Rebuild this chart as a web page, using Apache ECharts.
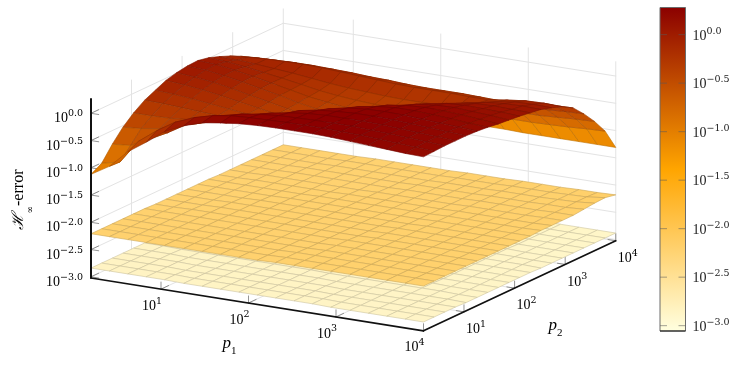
<!DOCTYPE html>
<html><head><meta charset="utf-8">
<style>html,body{margin:0;padding:0;background:#fff}#c{width:748px;height:367px}</style>
<script src="https://cdn.jsdelivr.net/npm/echarts@6/dist/echarts.min.js"></script>
</head><body><div id="c"></div>
<script>
// log10 of p1 / p2 at the mesh nodes
const pGrid=[0.20,0.41,0.62,0.83,1.04,1.26,1.47,1.68,1.89,2.10,2.31,2.52,2.73,2.94,3.16,3.37,3.58,3.79,4.00];
// log10 of the error: one row per p2 node, one column per p1 node
const topSurface=[
[-1.12,-.92,-.6,-.37,-.12,.04,.15,.2,.24,.26,.27,.27,.27,.26,.24,.22,.2,.18,.17],
[-1.01,-.93,-.5,-.25,-.04,.1,.19,.24,.26,.27,.28,.28,.28,.27,.26,.24,.22,.2,.18],
[-.75,-.72,-.55,-.38,-.18,-.02,.1,.18,.23,.26,.27,.28,.28,.28,.26,.25,.23,.21,.19],
[-.53,-.5,-.45,-.33,-.25,-.15,-.03,.08,.16,.22,.26,.28,.28,.28,.27,.25,.23,.21,.19],
[-.36,-.36,-.35,-.32,-.3,-.27,-.2,-.08,.05,.17,.23,.26,.28,.28,.27,.25,.23,.21,.19],
[-.22,-.23,-.25,-.27,-.29,-.3,-.3,-.25,-.12,.04,.16,.23,.26,.27,.26,.24,.22,.2,.18],
[-.13,-.15,-.18,-.22,-.26,-.3,-.34,-.35,-.3,-.15,.03,.16,.22,.25,.25,.23,.21,.18,.16],
[-.04,-.07,-.11,-.16,-.22,-.28,-.34,-.38,-.38,-.28,-.1,.05,.15,.2,.22,.21,.19,.16,.13],
[.01,-.02,-.06,-.12,-.19,-.26,-.33,-.39,-.42,-.38,-.26,-.08,.05,.13,.17,.18,.16,.14,.11],
[.04,.02,-.03,-.09,-.16,-.23,-.31,-.37,-.41,-.42,-.35,-.22,-.06,.05,.11,.13,.12,.11,.09],
[.05,.03,-.02,-.08,-.15,-.22,-.29,-.34,-.38,-.4,-.4,-.34,-.22,-.08,.02,.07,.08,.07,.06],
[.01,-.01,-.05,-.1,-.15,-.21,-.27,-.31,-.34,-.36,-.37,-.36,-.3,-.18,-.06,0,.03,.04,.03],
[-.06,-.07,-.09,-.12,-.15,-.19,-.23,-.26,-.28,-.3,-.31,-.31,-.3,-.26,-.16,-.08,-.03,-.02,-.03],
[-.14,-.11,-.09,-.08,-.08,-.09,-.11,-.13,-.15,-.17,-.18,-.18,-.18,-.19,-.19,-.14,-.1,-.09,-.1],
[-.24,-.22,-.21,-.2,-.2,-.21,-.22,-.24,-.25,-.27,-.28,-.28,-.28,-.29,-.3,-.28,-.25,-.23,-.22],
[-.42,-.4,-.39,-.38,-.38,-.39,-.4,-.41,-.42,-.43,-.44,-.45,-.45,-.46,-.46,-.46,-.45,-.43,-.42],
[-.65,-.64,-.63,-.63,-.63,-.64,-.64,-.65,-.66,-.67,-.68,-.68,-.69,-.7,-.7,-.7,-.68,-.66,-.65],
[-.92,-.92,-.92,-.93,-.93,-.93,-.94,-.94,-.95,-.95,-.96,-.96,-.96,-.97,-.97,-.96,-.95,-.93,-.92],
[-1.3,-1.3,-1.3,-1.3,-1.3,-1.3,-1.3,-1.3,-1.3,-1.3,-1.3,-1.3,-1.3,-1.31,-1.31,-1.31,-1.31,-1.31,-1.31]
];
const midSurface=[
[-2.21,-2.21,-2.21,-2.21,-2.21,-2.21,-2.21,-2.21,-2.21,-2.21,-2.20,-2.20,-2.20,-2.20,-2.20,-2.20,-2.20,-2.20,-2.20],
[-2.21,-2.21,-2.21,-2.21,-2.21,-2.21,-2.21,-2.21,-2.21,-2.21,-2.20,-2.20,-2.20,-2.20,-2.20,-2.20,-2.20,-2.20,-2.20],
[-2.21,-2.21,-2.21,-2.21,-2.21,-2.21,-2.21,-2.21,-2.21,-2.21,-2.20,-2.20,-2.20,-2.20,-2.20,-2.20,-2.20,-2.20,-2.20],
[-2.21,-2.21,-2.21,-2.21,-2.21,-2.21,-2.21,-2.21,-2.21,-2.21,-2.21,-2.20,-2.20,-2.20,-2.20,-2.20,-2.20,-2.20,-2.20],
[-2.21,-2.21,-2.21,-2.21,-2.21,-2.21,-2.21,-2.21,-2.21,-2.21,-2.21,-2.20,-2.20,-2.20,-2.20,-2.20,-2.20,-2.20,-2.20],
[-2.21,-2.21,-2.21,-2.21,-2.21,-2.21,-2.21,-2.21,-2.21,-2.21,-2.21,-2.20,-2.20,-2.20,-2.20,-2.20,-2.20,-2.20,-2.20],
[-2.22,-2.22,-2.21,-2.21,-2.21,-2.21,-2.21,-2.21,-2.21,-2.21,-2.21,-2.21,-2.20,-2.20,-2.20,-2.20,-2.20,-2.20,-2.20],
[-2.22,-2.22,-2.22,-2.21,-2.21,-2.21,-2.21,-2.21,-2.21,-2.21,-2.21,-2.21,-2.20,-2.20,-2.20,-2.20,-2.20,-2.20,-2.20],
[-2.22,-2.22,-2.22,-2.21,-2.21,-2.21,-2.21,-2.21,-2.21,-2.21,-2.21,-2.21,-2.20,-2.20,-2.20,-2.20,-2.20,-2.20,-2.20],
[-2.22,-2.22,-2.22,-2.22,-2.21,-2.21,-2.21,-2.21,-2.21,-2.21,-2.21,-2.21,-2.21,-2.20,-2.20,-2.20,-2.20,-2.20,-2.20],
[-2.22,-2.22,-2.22,-2.22,-2.22,-2.21,-2.21,-2.21,-2.21,-2.21,-2.21,-2.21,-2.21,-2.20,-2.20,-2.20,-2.20,-2.20,-2.20],
[-2.22,-2.22,-2.22,-2.22,-2.22,-2.22,-2.21,-2.21,-2.21,-2.21,-2.21,-2.21,-2.21,-2.20,-2.20,-2.20,-2.20,-2.20,-2.19],
[-2.23,-2.23,-2.22,-2.22,-2.22,-2.22,-2.22,-2.21,-2.21,-2.21,-2.21,-2.21,-2.21,-2.20,-2.20,-2.20,-2.20,-2.20,-2.19],
[-2.23,-2.23,-2.22,-2.22,-2.22,-2.22,-2.22,-2.22,-2.21,-2.21,-2.21,-2.21,-2.21,-2.20,-2.20,-2.20,-2.20,-2.19,-2.19],
[-2.23,-2.23,-2.23,-2.22,-2.22,-2.22,-2.22,-2.22,-2.22,-2.21,-2.21,-2.21,-2.21,-2.20,-2.20,-2.20,-2.20,-2.19,-2.19],
[-2.23,-2.23,-2.23,-2.22,-2.22,-2.22,-2.22,-2.22,-2.22,-2.21,-2.21,-2.21,-2.21,-2.20,-2.20,-2.20,-2.19,-2.19,-2.17],
[-2.23,-2.23,-2.23,-2.23,-2.22,-2.22,-2.22,-2.22,-2.22,-2.22,-2.21,-2.21,-2.21,-2.20,-2.20,-2.20,-2.19,-2.18,-2.15],
[-2.23,-2.23,-2.23,-2.23,-2.22,-2.22,-2.22,-2.22,-2.22,-2.22,-2.21,-2.21,-2.21,-2.20,-2.20,-2.20,-2.19,-2.18,-2.14],
[-2.23,-2.23,-2.23,-2.23,-2.23,-2.22,-2.22,-2.22,-2.22,-2.22,-2.21,-2.21,-2.21,-2.20,-2.20,-2.20,-2.19,-2.19,-2.18]
];
const paleSurface=[
[-2.84,-2.84,-2.84,-2.84,-2.84,-2.85,-2.85,-2.85,-2.85,-2.85,-2.85,-2.85,-2.85,-2.86,-2.86,-2.86,-2.86,-2.86,-2.86],
[-2.84,-2.84,-2.84,-2.84,-2.84,-2.85,-2.85,-2.85,-2.85,-2.85,-2.85,-2.85,-2.85,-2.86,-2.86,-2.86,-2.86,-2.86,-2.86],
[-2.84,-2.84,-2.84,-2.84,-2.85,-2.85,-2.85,-2.85,-2.85,-2.85,-2.85,-2.85,-2.86,-2.86,-2.86,-2.86,-2.86,-2.86,-2.86],
[-2.84,-2.84,-2.84,-2.84,-2.85,-2.85,-2.85,-2.85,-2.85,-2.85,-2.85,-2.85,-2.86,-2.86,-2.86,-2.86,-2.86,-2.86,-2.86],
[-2.84,-2.84,-2.84,-2.85,-2.85,-2.85,-2.85,-2.85,-2.85,-2.85,-2.85,-2.86,-2.86,-2.86,-2.86,-2.86,-2.86,-2.86,-2.87],
[-2.84,-2.84,-2.85,-2.85,-2.85,-2.85,-2.85,-2.85,-2.85,-2.85,-2.86,-2.86,-2.86,-2.86,-2.86,-2.86,-2.86,-2.87,-2.87],
[-2.85,-2.85,-2.85,-2.85,-2.85,-2.85,-2.85,-2.85,-2.85,-2.86,-2.86,-2.86,-2.86,-2.86,-2.86,-2.86,-2.87,-2.87,-2.87],
[-2.85,-2.85,-2.85,-2.85,-2.85,-2.85,-2.85,-2.85,-2.85,-2.86,-2.86,-2.86,-2.86,-2.86,-2.86,-2.87,-2.87,-2.87,-2.87],
[-2.85,-2.85,-2.85,-2.85,-2.85,-2.85,-2.85,-2.85,-2.86,-2.86,-2.86,-2.86,-2.86,-2.86,-2.87,-2.87,-2.87,-2.87,-2.87],
[-2.85,-2.85,-2.85,-2.85,-2.85,-2.85,-2.85,-2.86,-2.86,-2.86,-2.86,-2.86,-2.86,-2.87,-2.87,-2.87,-2.87,-2.87,-2.87],
[-2.85,-2.85,-2.85,-2.85,-2.85,-2.85,-2.86,-2.86,-2.86,-2.86,-2.86,-2.86,-2.87,-2.87,-2.87,-2.87,-2.87,-2.87,-2.87],
[-2.85,-2.85,-2.85,-2.85,-2.85,-2.86,-2.86,-2.86,-2.86,-2.86,-2.86,-2.87,-2.87,-2.87,-2.87,-2.87,-2.87,-2.87,-2.88],
[-2.85,-2.85,-2.85,-2.85,-2.86,-2.86,-2.86,-2.86,-2.86,-2.86,-2.87,-2.87,-2.87,-2.87,-2.87,-2.87,-2.87,-2.88,-2.88],
[-2.85,-2.85,-2.85,-2.86,-2.86,-2.86,-2.86,-2.86,-2.86,-2.87,-2.87,-2.87,-2.87,-2.87,-2.87,-2.87,-2.88,-2.88,-2.88],
[-2.85,-2.85,-2.86,-2.86,-2.86,-2.86,-2.86,-2.86,-2.87,-2.87,-2.87,-2.87,-2.87,-2.87,-2.87,-2.88,-2.88,-2.88,-2.88],
[-2.85,-2.86,-2.86,-2.86,-2.86,-2.86,-2.86,-2.87,-2.87,-2.87,-2.87,-2.87,-2.87,-2.87,-2.88,-2.88,-2.88,-2.88,-2.88],
[-2.86,-2.86,-2.86,-2.86,-2.86,-2.86,-2.87,-2.87,-2.87,-2.87,-2.87,-2.87,-2.87,-2.88,-2.88,-2.88,-2.88,-2.88,-2.88],
[-2.86,-2.86,-2.86,-2.86,-2.86,-2.87,-2.87,-2.87,-2.87,-2.87,-2.87,-2.87,-2.88,-2.88,-2.88,-2.88,-2.88,-2.88,-2.88],
[-2.86,-2.86,-2.86,-2.86,-2.87,-2.87,-2.87,-2.87,-2.87,-2.87,-2.87,-2.88,-2.88,-2.88,-2.88,-2.88,-2.88,-2.88,-2.88]
];
const pTicks=[1,2,3,4];
const zTicks=[-3,-2.5,-2,-1.5,-1,-0.5,0];
const pRange=[0.2,4];
const zRange=[-3.022,0.263];
const colorRange=[-3.055,0.28];
const colorStops=[[255,255,224],[255,165,0],[139,0,0]];

// oblique view: screen pixels per decade of each axis, and the origin corner
const V={ox:91,oy:278,ux:87.5,uy:13.9,vx:50.6,vy:-23.7,zy:54.5};
function project(a,b,z){
  const u=a-pRange[0],v=b-pRange[0];
  return [V.ox+V.ux*u+V.vx*v, V.oy+V.uy*u+V.vy*v-V.zy*(z-zRange[0])];
}
function zColor(z){
  let t=(z-colorRange[0])/(colorRange[1]-colorRange[0]);
  t=Math.max(0,Math.min(1,t))*2;
  const k=Math.min(1,Math.floor(t)),f=t-k,A=colorStops[k],B=colorStops[k+1];
  return [0,1,2].map(n=>A[n]+(B[n]-A[n])*f);
}
const css=c=>`rgb(${c.map(Math.round).join(',')})`;

const serif='"Liberation Serif",serif', supFont='"DejaVu Serif",serif';
const richNum={
  b:{fontFamily:serif,fontSize:14,color:'#222',verticalAlign:'bottom',lineHeight:17},
  s:{fontFamily:supFont,fontSize:9.5,color:'#222',verticalAlign:'top',lineHeight:11}
};
const expText=e=>'{b|10}{s|'+String(e).replace('-','\u2212')+'}';
const expFix=e=>'{b|10}{s|'+e.toFixed(1).replace('-','\u2212')+'}';

function surfaceSeries(grid,name){
  const cells=[];
  for(let j=grid.length-2;j>=0;j--) for(let i=0;i<grid[j].length-1;i++) cells.push([i,j]);
  return {type:'custom',name,silent:true,animation:false,clip:false,data:cells,
    renderItem(p,api){
      const i=api.value(0),j=api.value(1);
      const q=[[i,j],[i+1,j],[i+1,j+1],[i,j+1]];
      let m=0;
      const pts=q.map(([a,b])=>{m+=grid[b][a];return api.coord(project(pGrid[a],pGrid[b],grid[b][a]));});
      const c=zColor(m/4);
      return {type:'polygon',shape:{points:pts},style:{fill:css(c),stroke:css(c.map(x=>x*.8)),lineWidth:.6}};
    }};
}
function segSeries(segs,stroke,lw,z){
  return {type:'custom',silent:true,animation:false,clip:false,z,data:segs.map((s,i)=>[i]),
    renderItem(p,api){
      const s=segs[api.value(0)];
      const A=api.coord(project(...s[0])),B=api.coord(project(...s[1]));
      return {type:'line',shape:{x1:A[0],y1:A[1],x2:B[0],y2:B[1]},style:{stroke,lineWidth:lw,lineCap:'round'}};
    }};
}
const [pA,pB]=pRange,[zA,zB]=zRange;
const gridSegs=[];
zTicks.forEach(z=>{
  gridSegs.push([[pA,pA,z],[pA,pB,z]],[[pA,pB,z],[pB,pB,z]]);
});
pTicks.forEach(t=>{
  gridSegs.push([[t,pA,zA],[t,pB,zA]],[[t,pB,zA],[t,pB,zB]]);
  gridSegs.push([[pA,t,zA],[pB,t,zA]],[[pA,t,zA],[pA,t,zB]]);
});
const du=.088,dv=.15,dz=.13;
const tickSegs=[];
zTicks.forEach(z=>{
  tickSegs.push([[pA,pA,z],[pA+du,pA,z]],[[pA,pA,z],[pA,pA+dv,z]]);
});
pTicks.forEach(t=>{
  tickSegs.push([[t,pA,zA],[t,pA,zA+dz]],[[t,pA,zA],[t,pA+dv,zA]]);
  tickSegs.push([[pB,t,zA],[pB,t,zA+dz]],[[pB,t,zA],[pB-du,t,zA]]);
});
const labels=[];
zTicks.forEach(z=>labels.push({pos:[pA,pA,z],dx:-8,dy:4,align:'right',text:expFix(z)}));
pTicks.forEach(t=>{
  labels.push({pos:[t,pA,zA],dx:-9,dy:15.5,align:'center',text:expText(t)});
  labels.push({pos:[pB,t,zA],dx:12,dy:16,align:'center',text:expText(t)});
});
const labelSeries={type:'custom',silent:true,animation:false,clip:false,z:6,data:labels.map((l,i)=>[i]),
  renderItem(p,api){
    const l=labels[api.value(0)],c=api.coord(project(...l.pos));
    return {type:'text',x:c[0]+l.dx,y:c[1]+l.dy,style:{text:l.text,rich:richNum,align:l.align,verticalAlign:'middle'}};
  }};
const titles=[
  {x:229.5,y:346,rot:0,text:'{i|p}{d|1}'},
  {x:555.5,y:328,rot:0,text:'{i|p}{d|2}'},
  {x:23,y:200,rot:Math.PI/2,text:'{h|\u210B}{t|\u221E}{e|-error}'}
];
const titleRich={
  i:{fontFamily:serif,fontStyle:'italic',fontSize:17,color:'#222',verticalAlign:'top',lineHeight:16},
  d:{fontFamily:serif,fontSize:11,color:'#222',verticalAlign:'bottom',lineHeight:21},
  h:{fontFamily:'"DejaVu Serif",serif',fontStyle:'italic',fontSize:16,color:'#222',verticalAlign:'top',lineHeight:18},
  t:{fontFamily:'"DejaVu Serif",serif',fontSize:9,color:'#222',verticalAlign:'bottom',lineHeight:24},
  e:{fontFamily:serif,fontSize:16,color:'#222',verticalAlign:'top',lineHeight:18}
};
const titleSeries={type:'custom',silent:true,animation:false,clip:false,z:6,data:titles.map((t,i)=>[i]),
  renderItem(p,api){
    const t=titles[api.value(0)],c=api.coord([t.x,t.y]);
    return {type:'text',x:c[0],y:c[1],rotation:t.rot,style:{text:t.text,rich:titleRich,align:'center',verticalAlign:'middle'}};
  }};
const cbTicks=[-3,-2.5,-2,-1.5,-1,-0.5,0];
const colorBar={type:'custom',silent:true,animation:false,clip:false,xAxisIndex:1,yAxisIndex:1,z:3,data:[[0]],
  renderItem(p,api){
    const a=api.coord([0,colorRange[1]]),b=api.coord([1,colorRange[0]]);
    const stops=[0,1,2].map(k=>({offset:k/2,color:css(colorStops[2-k])}));
    const kids=[{type:'rect',shape:{x:a[0],y:a[1],width:b[0]-a[0],height:b[1]-a[1]},
      style:{fill:new echarts.graphic.LinearGradient(0,0,0,1,stops),stroke:'#6b6b6b',lineWidth:1}},
      {type:'line',shape:{x1:a[0],y1:b[1],x2:b[0],y2:b[1]},style:{stroke:'#111',lineWidth:1}}];
    cbTicks.forEach(t=>{
      const y=api.coord([0,t])[1];
      kids.push({type:'line',shape:{x1:a[0],y1:y,x2:a[0]+7,y2:y},style:{stroke:'rgba(90,90,90,.55)',lineWidth:1}});
      kids.push({type:'line',shape:{x1:b[0]-7,y1:y,x2:b[0],y2:y},style:{stroke:'rgba(90,90,90,.55)',lineWidth:1}});
    });
    return {type:'group',children:kids};
  }};

const chart=echarts.init(document.getElementById('c'),null,{renderer:'canvas'});
chart.setOption({
  animation:false,backgroundColor:'#fff',
  grid:[{left:0,top:0,right:0,bottom:0},{left:660,top:7.5,width:25.5,height:323.5}],
  xAxis:[{type:'value',min:0,max:748,show:false},{type:'value',gridIndex:1,min:0,max:1,show:false}],
  yAxis:[{type:'value',min:0,max:367,inverse:true,show:false},
    {type:'value',gridIndex:1,min:colorRange[0],max:colorRange[1],position:'right',
     axisLine:{show:false},axisTick:{show:false},splitLine:{show:false},
     axisLabel:{show:true,margin:7,customValues:cbTicks,formatter:v=>expFix(v),rich:richNum,align:'left'}}],
  series:[
    segSeries(gridSegs,'#e3e3e3',1,1),
    segSeries(tickSegs,'#666',.7,2),
    Object.assign(surfaceSeries(paleSurface,'pale'),{z:3}),
    Object.assign(surfaceSeries(midSurface,'mid'),{z:3}),
    Object.assign(surfaceSeries(topSurface,'top'),{z:3}),
    segSeries([[[pA,pA,zA],[pA,pA,zB]]],'#111',2,5),
    segSeries([[[pA,pA,zA],[pB,pA,zA]],[[pB,pA,zA],[pB,pB,zA]]],'#111',1.7,5),
    labelSeries,titleSeries,colorBar
  ]
});
</script></body></html>
